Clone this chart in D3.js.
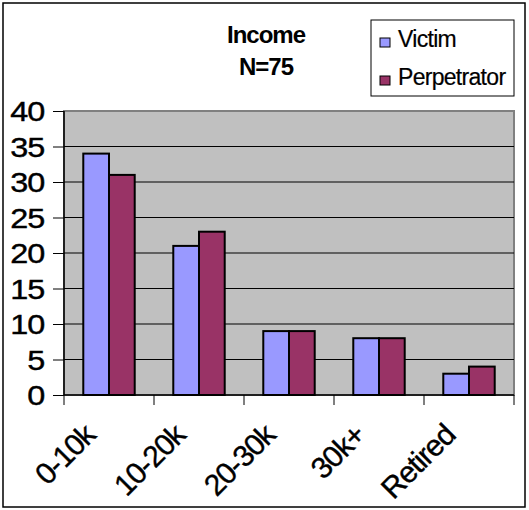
<!DOCTYPE html>
<html>
<head>
<meta charset="utf-8">
<script src="https://cdn.jsdelivr.net/npm/d3@7"></script>
<style>
  html, body { margin: 0; padding: 0; background: #fff; }
  svg { display: block; }
  text { font-family: "Liberation Sans", Arial, sans-serif; fill: #000; }
</style>
</head>
<body>
<svg id="chart" width="529" height="510"></svg>
<script>
const categories = ["0-10k", "10-20k", "20-30k", "30k+", "Retired"];
const seriesNames = ["Victim", "Perpetrator"];
const victim = [34, 21, 9, 8, 3];
const perpetrator = [31, 23, 9, 8, 4];
const yTicks = [0, 5, 10, 15, 20, 25, 30, 35, 40];
const titleLines = ["Income", "N=75"];
const colors = ["#9999FF", "#993366"];

const svg = d3.select("#chart");
const plot = { left: 64, right: 514, top: 111, bottom: 395 };

// outer border
svg.append("rect").attr("x", 3).attr("y", 3).attr("width", 522).attr("height", 504)
  .attr("fill", "#fff").attr("stroke", "#000").attr("stroke-width", 1.5);

const x0 = d3.scaleBand().domain(categories).range([plot.left, plot.right]).paddingInner(0).paddingOuter(0);
const x1 = d3.scaleBand().domain(seriesNames).range([0, x0.bandwidth()]).paddingInner(0).paddingOuter(0.75);
const y = d3.scaleLinear().domain([0, 40]).range([plot.bottom, plot.top]);

// plot background
svg.append("rect").attr("x", plot.left).attr("y", plot.top)
  .attr("width", plot.right - plot.left).attr("height", plot.bottom - plot.top)
  .attr("fill", "#C0C0C0").attr("stroke", "#808080").attr("stroke-width", 2);

// gridlines
svg.append("g").selectAll("line").data(yTicks.filter(d => d > 0 && d < 40)).join("line")
  .attr("x1", plot.left).attr("x2", plot.right)
  .attr("y1", d => y(d)).attr("y2", d => y(d))
  .attr("stroke", "#000").attr("stroke-width", 1);

// bars
const data = categories.map((c, i) => ({ cat: c, values: [victim[i], perpetrator[i]] }));
const groups = svg.append("g").selectAll("g").data(data).join("g")
  .attr("transform", d => `translate(${x0(d.cat)},0)`);
groups.selectAll("rect").data(d => d.values.map((v, j) => ({ s: seriesNames[j], v, j }))).join("rect")
  .attr("x", d => x1(d.s)).attr("width", x1.bandwidth())
  .attr("y", d => y(d.v)).attr("height", d => y(0) - y(d.v))
  .attr("fill", d => colors[d.j]).attr("stroke", "#000").attr("stroke-width", 2);

// y axis
const yAxis = svg.append("g").attr("transform", `translate(${plot.left},0)`)
  .call(d3.axisLeft(y).tickValues(yTicks).tickSize(11).tickPadding(0).tickFormat(d3.format("d")));
yAxis.select(".domain").attr("stroke", "#000").attr("stroke-width", 1.5).attr("d", `M0,${plot.top}V${plot.bottom}`);
yAxis.selectAll(".tick line").attr("stroke", "#000").attr("stroke-width", 1);
yAxis.selectAll(".tick text").attr("x", 0)
  .attr("font-size", 27).attr("font-family", "Liberation Sans, Arial, sans-serif")
  .attr("text-anchor", "end").attr("dy", "0.36em").attr("letter-spacing", -1)
  .attr("stroke", "#000").attr("stroke-width", 0.4)
  .attr("transform", "translate(-20,0) scale(1.2,1)");

// x axis
const xAxis = svg.append("g").attr("transform", `translate(0,${plot.bottom})`)
  .call(d3.axisBottom(x0).tickSize(0).tickFormat(""));
xAxis.select(".domain").attr("stroke", "#000").attr("stroke-width", 1.5).attr("d", `M${plot.left},0H${plot.right}`);
xAxis.selectAll(".tick").remove();
const bounds = categories.map(c => x0(c)).concat([plot.right]);
xAxis.selectAll("line.bt").data(bounds).join("line").attr("class", "bt")
  .attr("x1", d => d).attr("x2", d => d).attr("y1", 0).attr("y2", 10)
  .attr("stroke", "#000").attr("stroke-width", 1);
xAxis.selectAll("text.lbl").data(categories).join("text").attr("class", "lbl")
  .attr("font-size", 30).attr("text-anchor", "end").attr("letter-spacing", -1)
  .attr("stroke", "#000").attr("stroke-width", 0.4)
  .attr("transform", d => `translate(${x0(d) + x0.bandwidth() / 2 - 12},${42}) rotate(-45)`)
  .text(d => d);

// title
svg.append("g").selectAll("text").data(titleLines).join("text")
  .attr("x", 266).attr("y", (d, i) => 43 + i * 32)
  .attr("text-anchor", "middle").attr("font-size", 24).attr("font-weight", "bold")
  .attr("letter-spacing", -1)
  .text(d => d);

// legend
const lg = svg.append("g");
lg.append("rect").attr("x", 371).attr("y", 20).attr("width", 143).attr("height", 76)
  .attr("fill", "#fff").attr("stroke", "#000").attr("stroke-width", 1);
const items = lg.selectAll("g").data(seriesNames).join("g")
  .attr("transform", (d, i) => `translate(0,${i * 38})`);
items.append("rect").attr("x", 380).attr("y", 38).attr("width", 10).attr("height", 9)
  .attr("fill", (d, i) => colors[i]).attr("stroke", "#000").attr("stroke-width", 1);
items.append("text").attr("x", 398).attr("y", 47).attr("font-size", 23)
  .attr("letter-spacing", -0.7).attr("stroke", "#000").attr("stroke-width", 0.2).text(d => d);
</script>
</body>
</html>
